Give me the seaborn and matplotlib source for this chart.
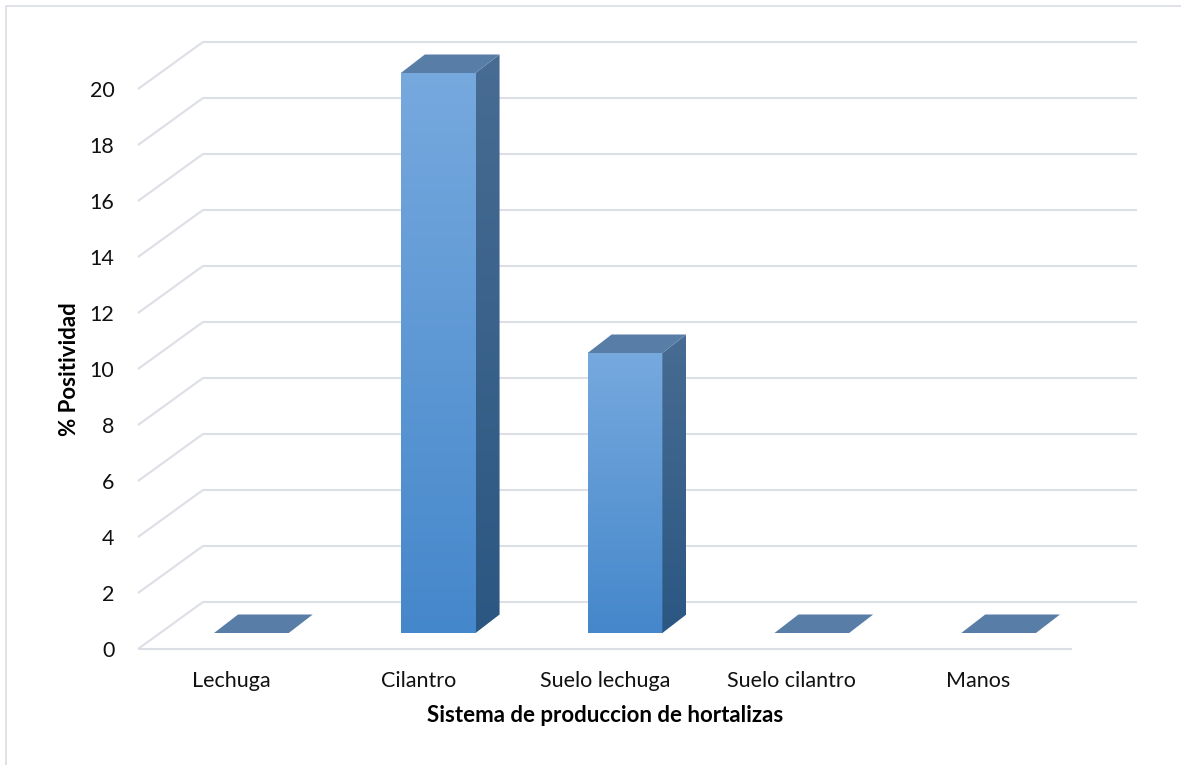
import numpy as np
import matplotlib
matplotlib.use("Agg")
import matplotlib.pyplot as plt
import seaborn as sns
from matplotlib.patches import Polygon, Rectangle
from matplotlib.colors import LinearSegmentedColormap

categories = ["Lechuga", "Cilantro", "Suelo lechuga", "Suelo cilantro", "Manos"]
values = [0, 20, 10, 0, 0]
yticks = [0, 2, 4, 6, 8, 10, 12, 14, 16, 18, 20]
xlabel = "Sistema de produccion de hortalizas"
ylabel = "% Positividad"

sns.set_theme(style="white")
plt.rcParams["font.family"] = ["Lato", "DejaVu Sans"]

W, H = 1181, 765
fig = plt.figure(figsize=(W / 100, H / 100), dpi=100)
# front plane: x 138..1072 px, y(0)=649 px, y(20)=89 px
ax = fig.add_axes([138 / W, (H - 649) / H, (1072 - 138) / W, (649 - 89) / H])
ax.set_xlim(-0.5, 4.5)
ax.set_ylim(0, 20)

pxx = (1072 - 138) / 5.0   # px per category
pxy = (649 - 89) / 20.0    # px per unit

# perspective offsets (px -> data)
wall_dx, wall_dy = 65 / pxx, 47 / pxy
face_dx, face_dy = 20 / pxx, 16 / pxy
dep_dx, dep_dy = 24 / pxx, 18.5 / pxy

sns.barplot(x=categories, y=values, ax=ax, width=0.40, color="#4f8fd0",
            saturation=1, zorder=3)

grid_c = "#dcdfe5"
for v in yticks:
    ax.plot([-0.5, -0.5 + wall_dx], [v, v + wall_dy], color=grid_c, lw=1.5,
            clip_on=False, zorder=0, solid_capstyle="butt")
    ax.plot([-0.5 + wall_dx, 4.5 + wall_dx], [v + wall_dy, v + wall_dy],
            color=grid_c, lw=1.5, clip_on=False, zorder=0, solid_capstyle="butt")
ax.plot([-0.5, 4.5], [0, 0], color=grid_c, lw=1.5, clip_on=False, zorder=0,
        solid_capstyle="butt")

cmap_front = LinearSegmentedColormap.from_list("f", ["#4587cb", "#76a9de"])
cmap_side = LinearSegmentedColormap.from_list("s", ["#2b5782", "#486c93"])
top_c = "#587ea8"

for p in list(ax.patches):
    x0 = p.get_x() + face_dx
    w = p.get_width()
    h = p.get_height()
    y0 = face_dy
    p.set_visible(False)
    if h > 0:
        grad = np.linspace(0, 1, 256).reshape(-1, 1)
        front = Rectangle((x0, y0), w, h, facecolor="none", edgecolor="none",
                          clip_on=False, zorder=3)
        ax.add_patch(front)
        im = ax.imshow(grad, extent=[x0, x0 + w, y0, y0 + h], origin="lower",
                       cmap=cmap_front, aspect="auto", zorder=3)
        im.set_clip_box(fig.bbox)
        im.set_clip_path(front)
        side = Polygon([(x0 + w, y0), (x0 + w + dep_dx, y0 + dep_dy),
                        (x0 + w + dep_dx, y0 + h + dep_dy), (x0 + w, y0 + h)],
                       closed=True, facecolor="none", edgecolor="none",
                       clip_on=False, zorder=3)
        ax.add_patch(side)
        im2 = ax.imshow(grad, extent=[x0 + w, x0 + w + dep_dx, y0, y0 + h + dep_dy],
                        origin="lower", cmap=cmap_side, aspect="auto", zorder=3)
        im2.set_clip_box(fig.bbox)
        im2.set_clip_path(side)
    top = Polygon([(x0, y0 + h), (x0 + dep_dx, y0 + h + dep_dy),
                   (x0 + w + dep_dx, y0 + h + dep_dy), (x0 + w, y0 + h)],
                  closed=True, facecolor=top_c, edgecolor="none",
                  clip_on=False, zorder=4)
    ax.add_patch(top)

ax.set_xlim(-0.5, 4.5)
ax.set_ylim(0, 20)
ax.set_yticks(yticks)
ax.set_yticklabels([str(v) for v in yticks])
for s in ax.spines.values():
    s.set_visible(False)
ax.tick_params(axis="y", length=0, pad=17, labelsize=15.5, labelcolor="#111111")
ax.tick_params(axis="x", length=0, pad=16, labelsize=15.5, labelcolor="#111111")
ax.set_xlabel(xlabel, fontsize=16, fontweight="bold", color="#000000")
ax.set_ylabel(ylabel, fontsize=16, fontweight="bold", color="#000000")
ax.yaxis.set_label_coords(-(138 - 70) / (1072 - 138), (649 - 369) / (649 - 89))
ax.xaxis.set_label_coords((605 - 138) / (1072 - 138), -(716 - 649) / (649 - 89))
ax.xaxis.label.set_va("center")
ax.yaxis.label.set_va("center")
ax.patch.set_alpha(0)

# outer chart border (cropped at right and bottom)
fig.patches.append(Rectangle((6 / W, -0.1), 1.2, (H - 6) / H + 0.1,
                             transform=fig.transFigure, facecolor="none",
                             edgecolor="#d9dde3", lw=1.2, zorder=0))

fig.savefig("out.png", dpi=100, facecolor="white")
